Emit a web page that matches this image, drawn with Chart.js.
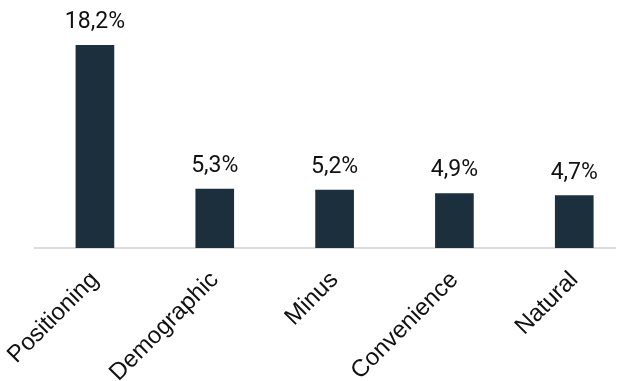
<!DOCTYPE html>
<html>
<head>
<meta charset="utf-8">
<script src="https://cdn.jsdelivr.net/npm/chart.js@4/dist/chart.umd.min.js"></script>
<style>
  html, body { margin: 0; padding: 0; background: #ffffff; }
  #wrap { width: 628px; height: 381px; }
</style>
</head>
<body>
<div id="wrap"><canvas id="chart"></canvas></div>
<script>
// Daten
const categories = ['Positioning', 'Demographic', 'Minus', 'Convenience', 'Natural'];
const values     = [18.2, 5.3, 5.2, 4.9, 4.7];

const BAR_COLOR   = '#1b2f3d';
const TEXT_COLOR  = '#111111';
const VALUE_FONT  = 'Roboto, "Noto Sans", sans-serif';
const LABEL_FONT  = '"Liberation Sans", Arial, sans-serif';

const fmtPct = v => v.toFixed(1).replace('.', ',') + '%';

// Wertbeschriftungen über den Balken
const valueLabels = {
  id: 'valueLabels',
  afterDatasetsDraw(chart) {
    const { ctx } = chart;
    const meta = chart.getDatasetMeta(0);
    ctx.save();
    ctx.font = '23px ' + VALUE_FONT;
    ctx.fillStyle = TEXT_COLOR;
    ctx.textAlign = 'center';
    ctx.textBaseline = 'alphabetic';
    meta.data.forEach((bar, i) => {
      ctx.fillText(fmtPct(values[i]), bar.x, bar.y - 17);
    });
    ctx.restore();
  }
};

new Chart(document.getElementById('chart'), {
  type: 'bar',
  data: {
    datasets: [{
      data: values.map((v, i) => ({ x: i, y: v })),
      backgroundColor: BAR_COLOR,
      barThickness: 38,
      borderWidth: 0
    }]
  },
  options: {
    responsive: true,
    maintainAspectRatio: false,
    animation: false,
    layout: { padding: { left: 35, right: 13, top: 0, bottom: 0 } },
    plugins: {
      legend: { display: false },
      tooltip: { enabled: false }
    },
    scales: {
      x: {
        type: 'linear',
        offset: false,
        min: -0.5,
        max: 4.34,
        grid: { display: false, drawTicks: false },
        border: { display: true, color: '#dcdcdc', width: 2 },
        afterBuildTicks: scale => {
          scale.ticks = categories.map((_, i) => ({ value: i }));
        },
        afterFit: scale => {
          scale.height = 133;
          scale.paddingLeft = 0;
          scale.paddingRight = 0;
        },
        ticks: {
          autoSkip: false,
          minRotation: 45,
          maxRotation: 45,
          padding: 18,
          color: TEXT_COLOR,
          font: { family: LABEL_FONT, size: 24 },
          callback: v => categories[v] ?? ''
        }
      },
      y: {
        display: false,
        min: 0,
        max: 22.28
      }
    }
  },
  plugins: [valueLabels]
});
</script>
</body>
</html>
